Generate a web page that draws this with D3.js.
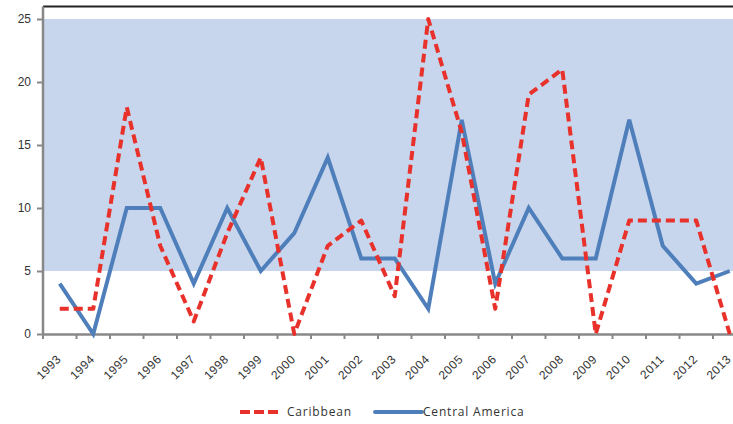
<!DOCTYPE html>
<html>
<head>
<meta charset="utf-8">
<script src="https://cdn.jsdelivr.net/npm/d3@7"></script>
<style>
  html, body { margin: 0; padding: 0; background: #fff; }
  svg { display: block; font-family: "Open Sans", "Liberation Sans", sans-serif; }
</style>
</head>
<body>
<svg id="chart" width="733" height="424"></svg>
<script>
const years = ["1993","1994","1995","1996","1997","1998","1999","2000","2001","2002","2003","2004","2005","2006","2007","2008","2009","2010","2011","2012","2013"];
const caribbean = [2,2,18,7,1,8,14,0,7,9,3,25,16,2,19,21,0,9,9,9,0];
const centralAmerica = [4,0,10,10,4,10,5,8,14,6,6,2,17,4,10,6,6,17,7,4,5];
const yTicks = [0,5,10,15,20,25];
const bandRange = [5,25];
const seriesNames = ["Caribbean","Central America"];

const svg = d3.select("#chart");
const left = 43, right = 746.5, bottom = 334;

const x = d3.scaleBand().domain(years).range([left, right]);
const y = d3.scaleLinear().domain([0, 25]).range([bottom, 19]);
const cx = d => x(d) + x.bandwidth() / 2;

// shaded band
svg.append("rect")
  .attr("x", left).attr("width", right - left)
  .attr("y", y(bandRange[1])).attr("height", y(bandRange[0]) - y(bandRange[1]))
  .attr("fill", "#c7d6ec");

// top border
svg.append("line")
  .attr("x1", left).attr("x2", 733).attr("y1", y(26)).attr("y2", y(26))
  .attr("stroke", "#222").attr("stroke-width", 2);

// y axis
const yAxis = svg.append("g").attr("transform", `translate(${left},0)`)
  .call(d3.axisLeft(y).tickValues(yTicks).tickSize(6).tickPadding(6).tickFormat(d3.format("d")));
yAxis.select(".domain").remove();
yAxis.append("line").attr("x1", 0).attr("x2", 0).attr("y1", y(26)).attr("y2", bottom + 1)
  .attr("stroke", "#888").attr("stroke-width", 2.5);
yAxis.selectAll(".tick line").attr("stroke", "#888").attr("stroke-width", 2);
yAxis.selectAll(".tick text").attr("fill", "#333").style("font-size", "12px");

// x axis
const xAxis = svg.append("g").attr("transform", `translate(0,${bottom})`)
  .call(d3.axisBottom(x).tickSize(0).tickFormat(d => d));
xAxis.select(".domain").attr("stroke", "#888").attr("stroke-width", 2.5);
xAxis.selectAll(".tick text")
  .attr("fill", "#333").style("font-size", "12px").style("letter-spacing", "0.5px")
  .attr("text-anchor", "end")
  .attr("transform", "translate(-1,23) rotate(-45)")
  .attr("dy", "0.35em").attr("y", 0).attr("x", 0);
// tick marks on band boundaries
xAxis.selectAll(".bound").data(years).enter().append("line")
  .attr("class", "bound")
  .attr("x1", d => x(d)).attr("x2", d => x(d)).attr("y1", 0).attr("y2", 5)
  .attr("stroke", "#888").attr("stroke-width", 2);

const line = d3.line().x((d, i) => cx(years[i])).y(d => y(d));

svg.append("path").datum(centralAmerica)
  .attr("d", line).attr("fill", "none")
  .attr("stroke", "#4f7fbb").attr("stroke-width", 4).attr("stroke-linejoin", "miter");

svg.append("path").datum(caribbean)
  .attr("d", line).attr("fill", "none")
  .attr("stroke", "#e8312b").attr("stroke-width", 4)
  .attr("stroke-dasharray", "9,5").attr("stroke-linejoin", "round");

// legend
const lg = svg.append("g");
lg.append("line").attr("x1", 240).attr("x2", 281).attr("y1", 412).attr("y2", 412)
  .attr("stroke", "#e8312b").attr("stroke-width", 4).attr("stroke-dasharray", "10,4");
lg.append("text").attr("x", 287).attr("y", 416).text(seriesNames[0])
  .attr("fill", "#333").style("font-size", "12px").style("letter-spacing", "0.8px");
lg.append("line").attr("x1", 375).attr("x2", 422).attr("y1", 412).attr("y2", 412)
  .attr("stroke", "#4f7fbb").attr("stroke-width", 4).attr("stroke-linecap", "round");
lg.append("text").attr("x", 423).attr("y", 416).text(seriesNames[1])
  .attr("fill", "#333").style("font-size", "12px").style("letter-spacing", "0.8px");
</script>
</body>
</html>
